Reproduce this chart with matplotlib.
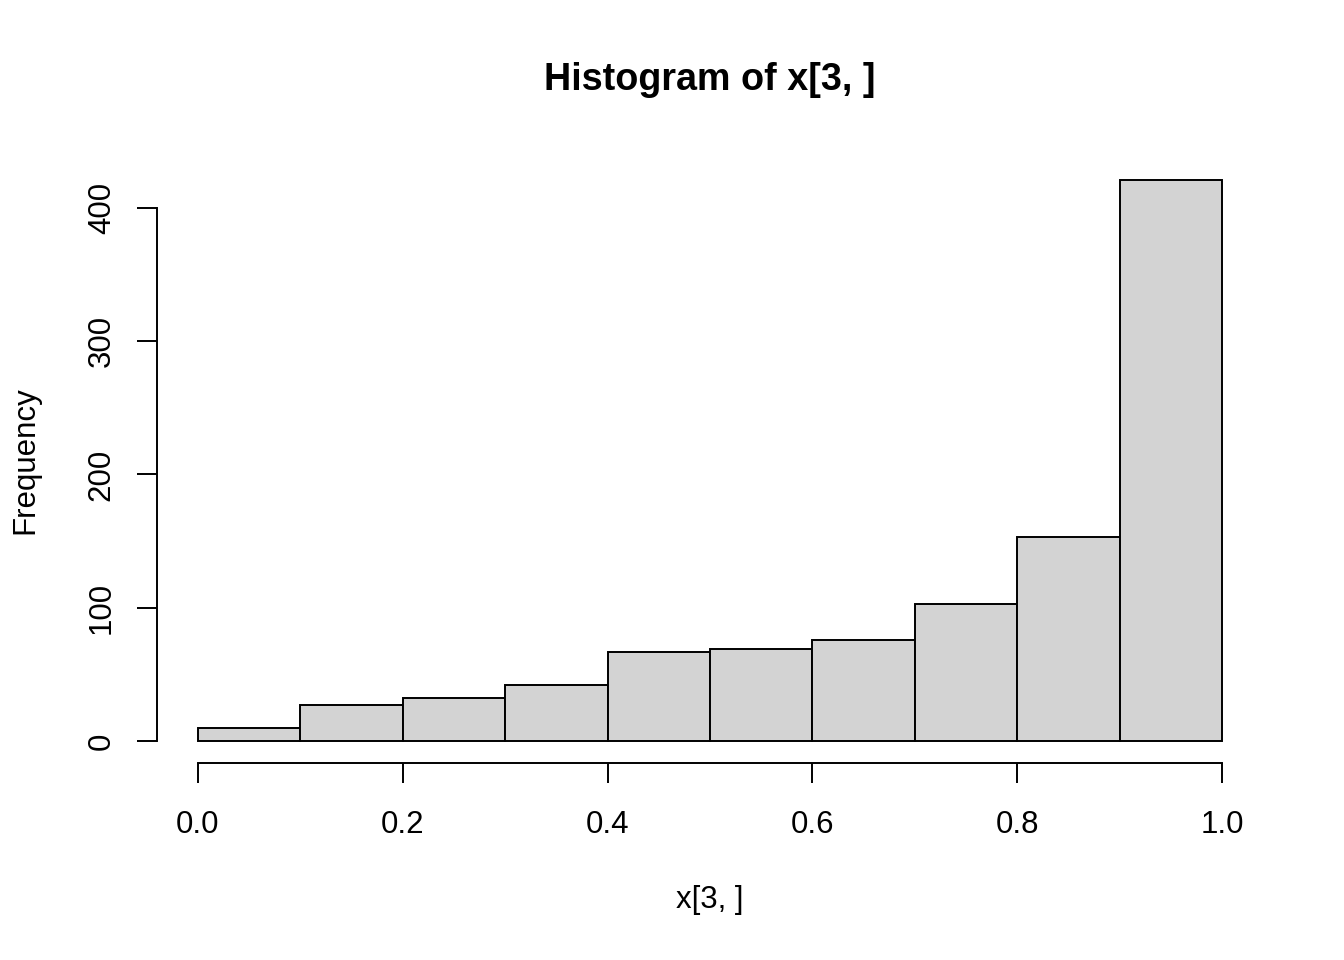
import numpy as np
import matplotlib.pyplot as plt

plt.rcParams['font.family'] = ['Liberation Sans', 'DejaVu Sans']

# histogram of x[3, ] - counts
bin_edges = [0.0, 0.1, 0.2, 0.3, 0.4, 0.5, 0.6, 0.7, 0.8, 0.9, 1.0]
counts = [10, 27, 32, 42, 67, 69, 76, 103, 153, 421]
x_ticks = [0.0, 0.2, 0.4, 0.6, 0.8, 1.0]
x_tick_labels = ['0.0', '0.2', '0.4', '0.6', '0.8', '1.0']
y_ticks = [0, 100, 200, 300, 400]

fig = plt.figure(figsize=(13.44, 9.6), dpi=100)
ax = fig.add_axes([157 / 1344, 1 - 763.4 / 960, (1263 - 157) / 1344, (763.4 - 157.6) / 960])

lefts = np.array(bin_edges[:-1])
widths = np.diff(bin_edges)
ax.bar(lefts, counts, width=widths, align='edge', color='#d3d3d3',
       edgecolor='black', linewidth=1.4)

ymax = max(counts)
ax.set_xlim(-0.04, 1.04)
ax.set_ylim(-0.04 * ymax, 1.04 * ymax)

for side in ['top', 'right']:
    ax.spines[side].set_visible(False)
ax.spines['left'].set_bounds(y_ticks[0], y_ticks[-1])
ax.spines['bottom'].set_bounds(x_ticks[0], x_ticks[-1])
for side in ['left', 'bottom']:
    ax.spines[side].set_linewidth(1.4)

ax.set_xticks(x_ticks)
ax.set_xticklabels(x_tick_labels)
ax.set_yticks(y_ticks)
ax.set_yticklabels([str(v) for v in y_ticks], rotation=90, va='center')
ax.tick_params(axis='both', length=14.4, width=1.4, labelsize=22.5)
ax.tick_params(axis='x', pad=19)
ax.tick_params(axis='y', pad=14.5)

fig.text(710 / 1344, 1 - 80 / 960, 'Histogram of x[3, ]', ha='center', va='center',
         fontsize=27.2, fontweight='bold')
fig.text(710 / 1344, 1 - 900 / 960, 'x[3, ]', ha='center', va='center', fontsize=22.5)
fig.text(25 / 1344, 1 - 460 / 960, 'Frequency', ha='center', va='center',
         rotation=90, fontsize=22.5)

fig.savefig('out.png', dpi=100)
